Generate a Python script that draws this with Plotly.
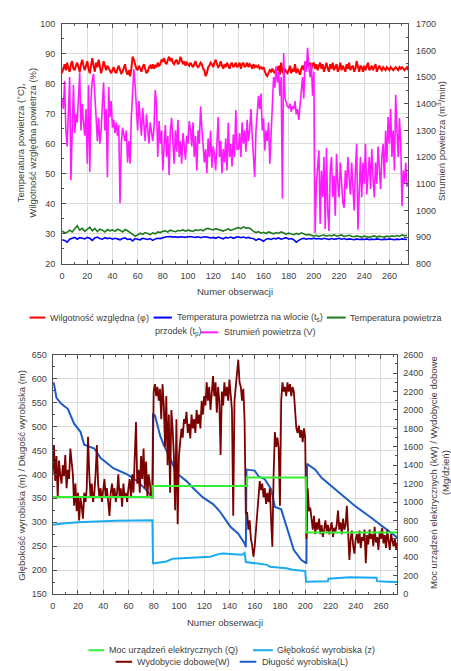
import plotly.graph_objects as go

W, H = 451, 671
def px(x): return x / W
def py(y): return 1 - y / H

# ---------------- top chart data ----------------
humidity = [
    83.5, 85, 86.5, 84.5, 87, 85, 84, 86.5, 87.5, 85, 84.5, 86, 87, 85.5, 84, 86.5, 88, 86, 84.5, 86,
    87.5, 85, 83.5, 86, 88.5, 86, 84, 87, 85.5, 88, 86, 83.5, 85, 87.5, 86, 84.5, 86, 85, 84, 83.5,
    84.5, 85.5, 84, 83.5, 85, 86, 84.5, 83.5, 84, 85, 86.5, 84, 83, 84.5, 82.5, 85, 89, 88, 86.5, 85,
    84.5, 86, 85, 84, 85.5, 86.5, 85, 83.5, 84, 85.5, 86, 85, 86.5, 85, 86, 85.5, 87, 86, 86.5, 88,
    87.5, 88.5, 87, 86.5, 88, 89, 87.5, 88.5, 87, 86.5, 87.5, 88, 86.5, 87, 89, 88, 86.5, 87.5, 86, 87,
    86.5, 86, 87, 86, 85.5, 86.5, 87.5, 86, 85.5, 86, 87, 86.5, 85, 84.5, 82.5, 83.5, 85.5, 86, 87, 86.5,
    85.5, 87, 88, 86.5, 85.5, 86, 87.5, 86, 85, 86.5, 85.5, 87, 86, 85, 86.5, 87, 85.5, 86, 87, 85.5,
    86, 87, 85, 86.5, 87, 85.5, 86, 87, 85.5, 86.5, 86, 85, 86.5, 85.5, 86, 85.5, 86, 85, 85.5, 85,
    85.5, 84, 83, 82.5, 83.5, 84.5, 84, 85, 84, 83.5, 85, 84.5, 86, 83, 87, 84, 83.5, 85, 84, 83.5,
    84.5, 86, 83.5, 85, 84, 86.5, 83.5, 85, 84, 83, 85, 86, 84.5, 87, 85, 88, 86, 87, 85, 86.5,
    87, 85, 86.5, 84.5, 86, 87, 85, 86.5, 84, 85.5, 87, 85, 84, 86.5, 85, 87, 84.5, 85.5, 86.5, 84,
    85, 87, 84.5, 86, 85, 84, 86.5, 85, 87, 84.5, 85.5, 86, 84, 85, 87.5, 85, 84, 86, 85.5, 84,
    86, 84.5, 85.5, 87, 84.5, 85, 86, 84.5, 85.5, 86.5, 84, 85, 86, 85, 84.5, 85.5, 85, 84.5, 85.5, 85,
    84.5, 85.5, 85, 84.5, 85, 85.5, 85, 84.5, 85.5, 85, 85.5, 85, 84.5, 85, 85.5, 84.5,
]
obs_h = list(range(len(humidity)))

airflow = [
    1420, 1380, 1485, 1300, 1240, 1410, 1500, 1113, 1350, 1470, 1290, 1360, 1330, 1460, 1518, 1300, 1400, 1330, 1280, 1380,
    1175, 1470, 1145, 1420, 1490, 1512, 1400, 1350, 1260, 1347, 1250, 1300, 1400, 1480, 1300, 1380, 1124, 1463, 1350, 1410,
    1310, 1340, 1290, 1330, 1280, 1320, 1027, 1250, 1310, 1280, 1260, 1300, 1180, 1260, 1175, 1350, 1420, 1530, 1470, 1380,
    1300, 1410, 1340, 1280, 1385, 1300, 1260, 1360, 1310, 1250, 1330, 1300, 1260, 1310, 1451, 1400, 1200, 1335, 1250, 1300,
    1150, 1240, 1320, 1200, 1280, 1133, 1300, 1347, 1260, 1175, 1300, 1220, 1340, 1200, 1260, 1175, 1290, 1230, 1190, 1280,
    1250, 1335, 1300, 1240, 1330, 1200, 1280, 1150, 1300, 1250, 1390, 1310, 1250, 1180, 1230, 1140, 1270, 1200, 1300, 1160,
    1240, 1210, 1150, 1280, 1350, 1200, 1260, 1140, 1230, 1180, 1270, 1150, 1330, 1200, 1250, 1165, 1285, 1200, 1376, 1230,
    1230, 1290, 1200, 1330, 1250, 1300, 1220, 1340, 1260, 1300, 1380, 1280, 1200, 1125, 1300, 1360, 1430, 1380, 1438, 1300,
    1345, 1225, 1300, 1260, 1330, 1175, 1290, 1420, 1500, 1460, 1540, 1480, 1520, 1430, 1500, 1045, 1590, 1420, 1400, 1390,
    1385, 1400, 1370, 1390, 1380, 1410, 1360, 1380, 1339, 1400, 1450, 1500, 1420, 1560, 1520, 1610, 1540, 1500, 1550, 1430,
    1520, 915, 1100, 1180, 1225, 950, 1150, 1050, 1200, 930, 1235, 1000, 923, 1150, 1200, 1050, 1130, 980, 1212, 1100,
    1050, 1180, 1100, 1030, 1010, 1150, 1080, 1200, 1120, 1060, 1180, 1100, 1000, 1150, 1250, 928, 1100, 1200, 1050, 1180,
    1100, 1250, 1060, 1150, 1200, 1080, 1230, 1120, 1050, 1180, 1100, 1240, 1150, 1080, 1200, 1250, 1120, 1300, 1180, 1350,
    1250, 1380, 1200, 1300, 1150, 1434, 1300, 1200, 1346, 1250, 1017, 1150, 1100, 1180, 1090, 1100,
]
obs_v = list(range(len(airflow)))

obs_t = list(range(0, 276, 2))
t_inlet = [
    28, 27.8, 27.2, 28.2, 28.5, 28.8, 28.2, 28.7, 28.5, 28.3, 28.8, 28.5, 27.8, 28.6, 28.9, 28.4, 28.2, 28.7, 28.4, 28.6,
    28.2, 28.5, 28.3, 28, 28.4, 28.6, 28.1, 28.3, 27.6, 28.4, 28.2, 28, 28.5, 28.3, 28.1, 28.4, 27.8, 28.3, 28.5, 28.4,
    28.7, 28.9, 29, 29.1, 28.9, 29, 28.8, 29, 28.9, 28.8, 29, 29.1, 28.9, 28.8, 29, 28.7, 28.9, 29, 28.8, 28.6,
    28.8, 28.5, 28.9, 28.7, 28.3, 28.8, 28.6, 28.9, 28.5, 28.8, 29, 28.7, 28.9, 28.6, 28.8, 28.5, 28.4, 27.8, 28.3, 28.0,
    27.5, 28.2, 28.4, 28.1, 28.5, 28.3, 28.6, 28.2, 28.5, 28.7, 28.2, 28.4, 28.0, 27.2, 27.8, 28.3, 28.5, 28.2, 28.4, 28.3,
    28.5, 28.3, 28.4, 28.2, 28.5, 28.3, 28.1, 28.4, 28.2, 28.3, 28.5, 28.2, 28.4, 28.1, 28.3, 28.2, 28.0, 28.3, 28.1, 28.2,
    28.1, 28.3, 28.0, 28.2, 28.1, 28.3, 28.2, 28.0, 28.2, 28.1, 28.3, 28.2, 28.0, 28.2, 28.1, 28.3, 28.2, 28.1,
]
t_face = [
    31, 30.3, 30.5, 31.2, 30.6, 31.5, 32.7, 31.2, 31.8, 30.8, 31.5, 32.2, 31, 31.8, 30.7, 31.5, 31.2, 30.6, 31.4, 31,
    31.3, 30.8, 31.5, 31.2, 30.6, 31.4, 31, 30.4, 29.8, 29.2, 29.6, 30.2, 29.8, 30.4, 30.1, 29.7, 30.3, 30, 30.6, 30.4,
    30.8, 31, 30.6, 31.2, 30.9, 30.7, 31.1, 31, 31.3, 30.9, 31.2, 31, 30.8, 31.3, 31.1, 31.4, 31, 31.6, 31.8, 31.5,
    31.3, 31.7, 31.4, 31.2, 30.9, 31.3, 31.6, 31.1, 31.4, 31.8, 32.1, 31.7, 32.3, 31.9, 32, 31.6, 30.8, 30.4, 30.7, 30.2,
    30.5, 30.1, 30.6, 30.3, 30, 30.4, 30.2, 30.6, 30.3, 29.9, 30.2, 30, 29.7, 30.1, 29.8, 30.3, 29.9, 29.6, 29.8, 29.4,
    29.2, 29.5, 29.1, 29.4, 29.6, 29.2, 29.5, 29.3, 29.7, 29.2, 29.4, 29.6, 29.1, 29.3, 29.5, 29.2, 29.0, 29.3, 29.1, 28.9,
    29.2, 29.0, 28.8, 29.1, 29.3, 28.9, 29.2, 29.0, 28.9, 29.2, 29.0, 29.3, 29.1, 29.4, 29.2, 29.6, 29.3, 29.5,
]

# ---------------- bottom chart data ----------------
output_daily = [
    1300, 1620, 1230, 1500, 1050, 1450, 1300, 1200, 1400, 1280, 1510, 1150, 1350, 1250, 1580, 1440, 1300, 960, 1200, 900,
    1100, 800, 1050, 950, 820, 1100, 1000, 1150, 1708, 1300, 1050, 1200, 1000, 1100, 1300, 1620, 1200, 1050, 1150, 1000,
    1100, 1250, 1050, 1150, 1000, 850, 1100, 1200, 1050, 1150, 1000, 1100, 1300, 1050, 1150, 950, 1200, 1050, 1100, 1000,
    1150, 1250, 1050, 1300, 1100, 1400, 1869, 1200, 1350, 1100, 1500, 1250, 1580, 1150, 1440, 1050, 1300, 1200, 1050, 1100,
    2200, 2280, 2150, 2250, 2100, 2230, 1900, 2280, 2050, 1600, 2150, 1400, 1950, 1100, 2000, 1800, 1500, 910, 1900, 760,
    1500, 1650, 1797, 1700, 1900, 1850, 1980, 1750, 1850, 1690, 1950, 1800, 1900, 1750, 2000, 1850, 1950, 1800, 2100, 1950,
    2150, 2050, 2300, 2100, 2250, 2000, 2200, 2368, 2150, 2300, 1970, 2250, 2100, 1512, 2200, 2050, 2300, 2150, 2250, 2100,
    2330, 2200, 2000, 850, 2100, 2250, 2400, 2546, 2300, 2250, 2100, 2230, 1880, 870, 890, 700, 800, 600, 530, 407,
    514, 700, 900, 1100, 1227, 1130, 1200, 1050, 1150, 980, 1100, 1000, 1150, 800, 514, 1300, 1760, 1600, 1700, 1580,
    960, 2100, 2300, 2200, 2250, 2150, 2300, 2200, 2280, 2150, 2250, 2200, 2000, 1800, 1750, 1830, 1700, 1780, 1650, 1800,
    1700, 600, 1150, 900, 940, 800, 700, 850, 650, 780, 700, 820, 650, 750, 620, 700, 800, 680, 750, 650,
    700, 780, 620, 720, 680, 760, 906, 700, 780, 650, 820, 700, 750, 960, 680, 370, 600, 690, 520, 440,
    600, 650, 550, 690, 500, 620, 580, 700, 335, 640, 540, 700, 600, 650, 520, 730, 560, 620, 480, 680,
    600, 720, 550, 640, 500, 700, 580, 480, 650, 560, 520, 600, 480, 560,
]
obs_w = list(range(len(output_daily)))

power_x = [0, 79.3, 153.8, 200.6, 273]
power_q = [1055, 1175, 1265, 670, 670]

depth_x = [0, 5, 10, 20, 50, 79, 79.5, 82, 90, 95, 110, 125, 132, 135, 150, 152, 153, 160, 170, 172,
           185, 190, 200, 200.7, 218, 218.5, 235, 256.5, 257, 265, 273]
depth_z = [295, 297, 298, 300, 303, 304, 214, 215, 218, 224, 226, 228, 234, 235, 232, 236, 217, 215, 211, 207,
           204, 201, 198, 176, 177, 182, 185, 184, 177, 176, 175]

length_x = [0, 1, 3, 7, 12, 17, 22, 25, 33, 38, 48, 59, 67, 75, 79, 79.5, 81, 85, 88, 93,
            98, 106, 111, 119, 127, 132, 137, 141, 147, 152, 153, 153.5, 160, 163, 168, 173, 176, 181, 187, 191,
            197, 201, 201.5, 208, 213, 226, 239, 252, 265, 273]
length_l = [592, 590, 560, 547, 537, 506, 489, 462, 454, 434, 413, 400, 386, 365, 350, 525, 523, 482, 461, 434,
            403, 386, 372, 352, 338, 324, 305, 290, 276, 256, 248, 410, 408, 396, 390, 369, 332, 327, 276, 242,
            221, 214, 422, 410, 393, 365, 335, 310, 283, 268]

x_ticks = list(range(0, 261, 20))

# colours
C_RED, C_BLUE, C_GREEN, C_MAG = "#ff0000", "#0000ff", "#1e7b1e", "#ff1aff"
C_LIME, C_LBLUE, C_DBLUE, C_BROWN = "#33ee33", "#1aaaf0", "#1f5cc8", "#7b0000"

fig = go.Figure()
fig.add_trace(go.Scatter(x=obs_h, y=humidity, mode="lines", line=dict(color=C_RED, width=2), xaxis="x", yaxis="y"))
fig.add_trace(go.Scatter(x=obs_t, y=t_inlet, mode="lines", line=dict(color=C_BLUE, width=1.6), xaxis="x", yaxis="y"))
fig.add_trace(go.Scatter(x=obs_t, y=t_face, mode="lines", line=dict(color=C_GREEN, width=1.6), xaxis="x", yaxis="y"))
fig.add_trace(go.Scatter(x=obs_v, y=airflow, mode="lines", line=dict(color=C_MAG, width=1.6), xaxis="x", yaxis="y2"))

fig.add_trace(go.Scatter(x=depth_x, y=depth_z, mode="lines", line=dict(color=C_LBLUE, width=2), xaxis="x2", yaxis="y3"))
fig.add_trace(go.Scatter(x=length_x, y=length_l, mode="lines", line=dict(color=C_DBLUE, width=2), xaxis="x2", yaxis="y3"))
fig.add_trace(go.Scatter(x=obs_w, y=output_daily, mode="lines", line=dict(color=C_BROWN, width=1.8), xaxis="x2", yaxis="y4"))
fig.add_trace(go.Scatter(x=power_x, y=power_q, mode="lines", line=dict(color=C_LIME, width=2, shape="hv"), xaxis="x2", yaxis="y4"))

AX_LINE = "#505050"
GRID = "#dcdcdc"
TICKF = dict(size=9, color="#404040")
common = dict(showline=True, linecolor=AX_LINE, linewidth=1, ticks="inside", ticklen=4, tickcolor=AX_LINE,
              zeroline=False, tickfont=TICKF)

fig.update_layout(
    width=W, height=H, margin=dict(l=0, r=0, t=0, b=0),
    paper_bgcolor="white", plot_bgcolor="white", showlegend=False,
    font=dict(family="Liberation Sans, Arial, sans-serif", size=9, color="#404040"),
    xaxis=dict(domain=[px(59.5), px(408)], anchor="y", range=[0, 275], tickvals=x_ticks,
               showgrid=True, gridcolor=GRID, mirror="ticks", ticklabelstandoff=3,
               minor=dict(dtick=10, tick0=0, ticks="inside", ticklen=2, tickcolor=AX_LINE, showgrid=False), **common),
    yaxis=dict(domain=[py(262.7), py(19)], anchor="x", range=[20, 100], dtick=10, tick0=20,
               showgrid=True, gridcolor=GRID, ticklabelstandoff=4,
               minor=dict(dtick=5, ticks="inside", ticklen=2, tickcolor=AX_LINE, showgrid=False), **common),
    yaxis2=dict(overlaying="y", side="right", anchor="x", range=[800, 1700], dtick=100, tick0=800,
                showgrid=False, ticklabelstandoff=5,
                minor=dict(dtick=50, ticks="inside", ticklen=2, tickcolor=AX_LINE, showgrid=False), **common),
    xaxis2=dict(domain=[px(50), px(397)], anchor="y3", range=[0, 273], tickvals=x_ticks,
                showgrid=True, gridcolor=GRID, mirror="ticks", ticklabelstandoff=3,
                minor=dict(dtick=10, tick0=0, ticks="inside", ticklen=2, tickcolor=AX_LINE, showgrid=False), **common),
    yaxis3=dict(domain=[py(598), py(355)], anchor="x2", range=[150, 650], dtick=50, tick0=150,
                showgrid=True, gridcolor=GRID, ticklabelstandoff=3,
                minor=dict(dtick=25, ticks="inside", ticklen=2, tickcolor=AX_LINE, showgrid=False), **common),
    yaxis4=dict(overlaying="y3", side="right", anchor="x2", range=[0, 2600], dtick=200, tick0=0,
                showgrid=False, ticklabelstandoff=3,
                minor=dict(dtick=100, ticks="inside", ticklen=2, tickcolor=AX_LINE, showgrid=False), **common),
)

TF = dict(family="Liberation Sans, Arial, sans-serif", size=9.5, color="#404040")
ann = []
def text(x, y, s, angle=0, xa="center", ya="middle", font=TF):
    ann.append(dict(x=px(x), y=py(y), xref="paper", yref="paper", text=s, showarrow=False,
                    textangle=angle, xanchor=xa, yanchor=ya, font=font))

# axis titles
text(24, 140, "Temperatura powietrza (°C),<br>Wilgotność względna powietrza (%)", angle=-90)
text(441, 138, "Strumień powietrza (m<sup>3</sup>/min)", angle=-90)
text(233.7, 291, "Numer obserwacji")
text(19, 477, "Głębokość wyrobiska (m) / Długość wyrobiska (m)", angle=-90)
text(440, 475, "Moc urządzeń elektrycznych (kW) / Wydobycie dobowe<br>(Mg/dzień)", angle=-90)
text(223.5, 627, "Numer obserwacji")

# legends (drawn manually to reproduce the wrapped layout)
LF = dict(family="Liberation Sans, Arial, sans-serif", size=9, color="#404040")
shapes = []
def leg_line(x0, x1, y, color):
    shapes.append(dict(type="line", xref="paper", yref="paper", x0=px(x0), x1=px(x1), y0=py(y), y1=py(y),
                       line=dict(color=color, width=2)))

leg_line(26.7, 42.7, 317.3, C_RED); text(45, 317.3, "Wilgotność względna (φ)", xa="left", font=LF)
leg_line(151.7, 170, 317.3, C_BLUE); text(172.7, 317.3, "Temperatura powietrza na wlocie (t<sub>s</sub>)", xa="left", font=LF)
leg_line(326, 345, 317.3, C_GREEN); text(347.3, 317.3, "Temperatura powietrza", xa="left", font=LF)
text(150.7, 332.3, "przodek (t<sub>p</sub>)", xa="left", font=LF)
leg_line(199.3, 216.7, 332.3, C_MAG); text(220, 332.3, "Strumień powietrza (V)", xa="left", font=LF)

leg_line(86, 101.7, 655, C_LIME); text(105, 655, "Moc urządzeń elektrycznych (Q)", xa="left", font=LF)
leg_line(251.7, 271.7, 655, C_LBLUE); text(274, 655, "Głębokość wyrobiska (z)", xa="left", font=LF)
leg_line(113.3, 130, 666.7, C_BROWN); text(132.7, 666.7, "Wydobycie dobowe(W)", xa="left", font=LF)
leg_line(238.3, 255, 666.7, C_DBLUE); text(258.3, 666.7, "Długość wyrobiska(L)", xa="left", font=LF)

fig.update_layout(annotations=ann, shapes=shapes)
fig.write_html("out.html")
